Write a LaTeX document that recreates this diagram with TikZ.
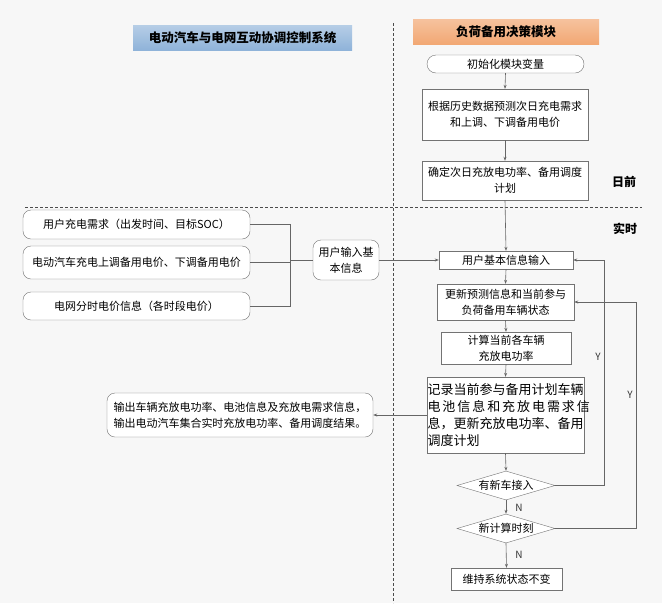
\documentclass[tikz,border=0pt]{standalone}
\usepackage{fontspec}
\setmainfont{Noto Sans CJK SC}
\usetikzlibrary{arrows.meta,shapes.geometric}
\definecolor{hdrblue}{RGB}{143,179,217}
\definecolor{hdrorange}{RGB}{242,168,116}

\begin{document}
\begin{tikzpicture}[x=1pt,y=-1pt,
    box/.style={draw=black!55,fill=white,inner sep=0pt,align=center,font=\fontsize{11}{16}\selectfont},
    rbox/.style={box,rounded corners=8pt},
    dec/.style={draw=black!55,fill=white,diamond,aspect=3.4,inner sep=0pt,minimum width=98,minimum height=29,font=\fontsize{11}{14}\selectfont},
    hdr/.style={inner sep=0pt,minimum width=219,minimum height=25,font=\fontsize{12.5}{14}\selectfont\bfseries},
    phase/.style={inner sep=0pt,font=\fontsize{12}{14}\selectfont\bfseries},
    lbl/.style={inner sep=0pt,font=\fontsize{10}{12}\selectfont,text=black!80},
    line/.style={draw=black!60,line width=0.6pt},
    arr/.style={line,-{Stealth[length=4pt,width=3pt]}},
    sep/.style={draw=black!70,line width=0.5pt,dash pattern=on 3pt off 2pt}]
			%%%%% START %%%%%

			\fill[black!3] (0,0) rectangle (662,603);

			\node[hdr, top color=hdrblue!65!white, bottom color=hdrblue] (sys) at (242.5,37.5) {电动汽车与电网互动协调控制系统};
			\node[hdr, minimum width=186, top color=hdrorange!70!white, bottom color=hdrorange] (mod) at (506,31.5) {负荷备用决策模块};

			\draw[sep] (393,23) -- (393,603);
			\draw[sep] (25,207) -- (642,207);
			\node[phase] (dayahead) at (624,182) {日前};
			\node[phase] (realtime) at (625,229) {实时};

			% day-ahead part
			\node[rbox, rounded corners=9pt, minimum width=157, minimum height=18] (init) at (505.5,64) {初始化模块变量};
			\node[box, minimum width=166, minimum height=51] (pred) at (505,114.5) {根据历史数据预测次日充电需求\\和上调、下调备用电价};
			\node[box, minimum width=166, minimum height=39] (plan) at (505,180.5) {确定次日充放电功率、备用调度\\计划};

			% real-time part
			\node[box, minimum width=134, minimum height=18] (input) at (506,260) {用户基本信息输入};
			\node[box, minimum width=137, minimum height=36] (update) at (505.5,302) {更新预测信息和当前参与\\负荷备用车辆状态};
			\node[box, minimum width=130, minimum height=32] (calc) at (506,348) {计算当前各车辆\\充放电功率};
			\node[box, minimum width=157, minimum height=76, align=left, font=\fontsize{13}{17}\selectfont] (record) at (505.5,415)
				{记录当前参与备用计划车辆\\\makebox[155pt][s]{电 池 信 息 和 充 放 电 需 求 信}\\息，更新充放电功率、备用\\调度计划};
			\node[dec] (newcar) at (506,485.5) {有新车接入};
			\node[dec] (newtime) at (506,528.5) {新计算时刻};
			\node[box, minimum width=111, minimum height=22] (keep) at (506.5,579) {维持系统状态不变};

			% system side
			\node[rbox, minimum width=227, minimum height=29] (demand) at (136.5,224.5) {用户充电需求（出发时间、目标SOC）};
			\node[rbox, minimum width=227, minimum height=33] (evprice) at (136.5,262.5) {电动汽车充电上调备用电价、下调备用电价};
			\node[rbox, minimum width=227, minimum height=28] (tou) at (136.5,306) {电网分时电价信息（各时段电价）};
			\node[rbox, minimum width=66, minimum height=40] (userin) at (346,260) {用户输入基\\本信息};
			\node[rbox, minimum width=266, minimum height=44, align=left] (output) at (240,415)
				{输出车辆充放电功率、电池信息及充放电需求信息，\\输出电动汽车集合实时充放电功率、备用调度结果。};

			\coordinate (bus) at (290,260);
			\coordinate (loopa) at (604,0);
			\coordinate (loopb) at (636,0);

			\draw[line] (demand.east) -- (demand.east -| bus) -- (tou.east -| bus) -- (tou.east);
			\draw[line] (evprice.east) -- (evprice.east -| bus);
			\draw[line] (bus) -- (userin.west);
			\draw[arr] (userin.east) -- (input.west);

			\draw[arr] (init.south) -- (pred.north);
			\draw[arr] (pred.south) -- (plan.north);
			\draw[arr] (plan.south) -- (input.north);
			\draw[arr] (input.south) -- (update.north);
			\draw[arr] (update.south) -- (calc.north);
			\draw[arr] (calc.south) -- (record.north);
			\draw[arr] (record.south) -- (newcar.north);
			\draw[arr] (newcar.south) -- (newtime.north);
			\draw[arr] (newtime.south) -- (keep.north);
			\draw[arr] (record.west) -- (output.east);

			\draw[arr] (newcar.east) -- (newcar.east -| loopa) -- (loopa |- input.east) -- (input.east);
			\draw[arr] (newtime.east) -- (newtime.east -| loopb) -- (loopb |- update.east) -- (update.east);

			\node[lbl] (ya) at (598,357) {Y};
			\node[lbl] (yb) at (630,395) {Y};
			\node[lbl] (na) at (519,508) {N};
			\node[lbl] (nb) at (519,555) {N};

			%%%%% END %%%%%
\end{tikzpicture}
\end{document}
